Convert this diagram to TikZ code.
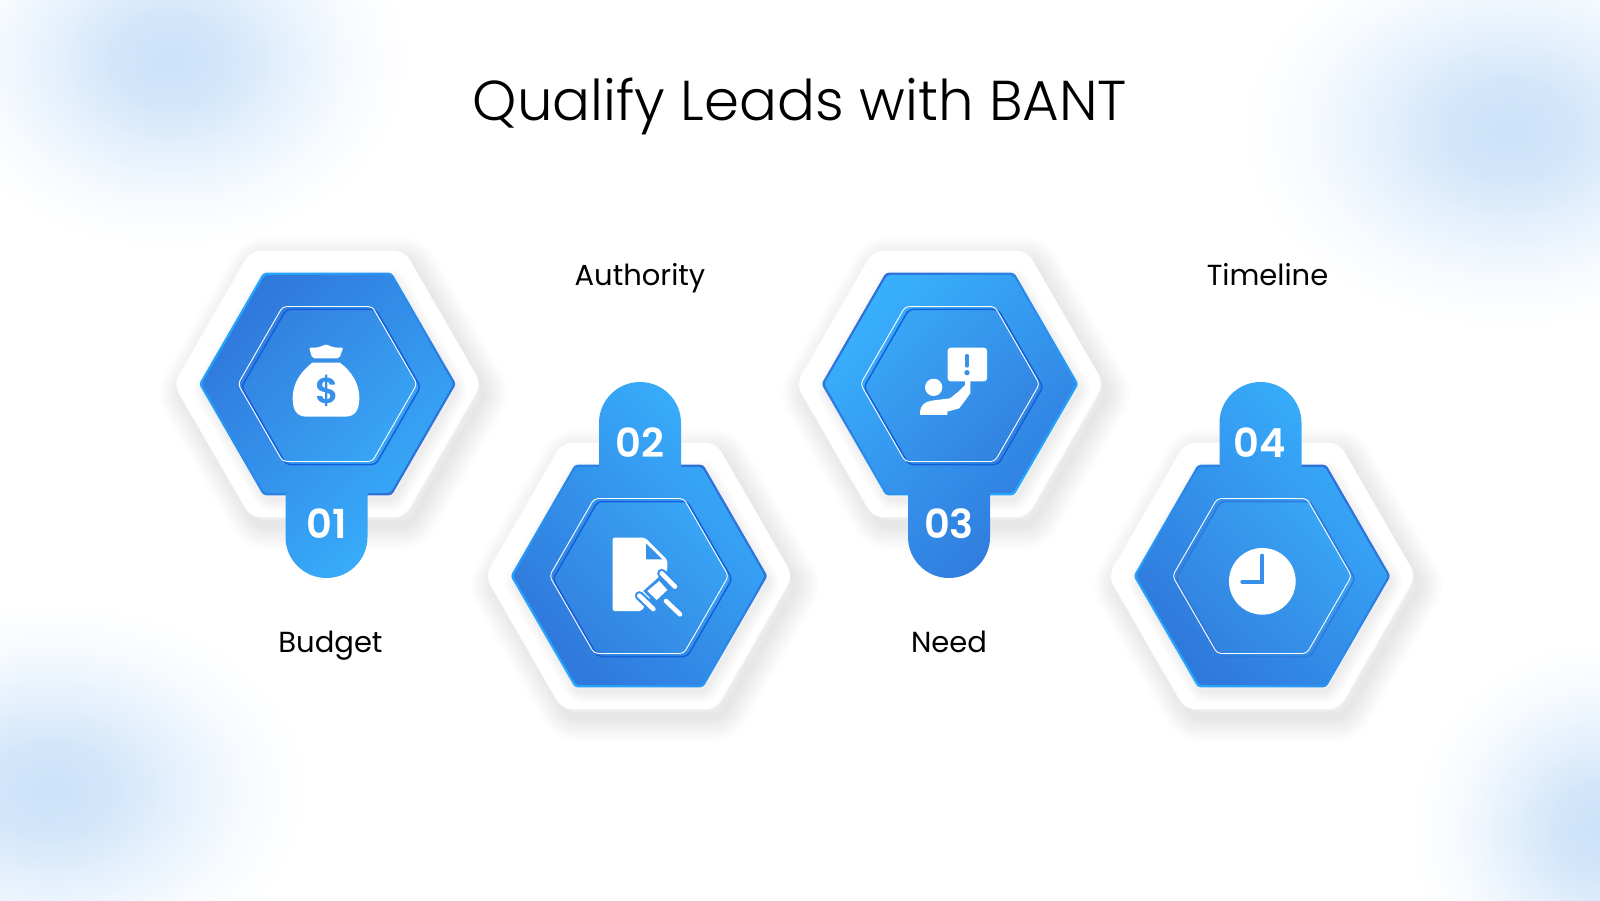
\documentclass[tikz,border=0pt]{standalone}
\usepackage{fontspec}
\newfontfamily\titlefont{Poppins Light}
\newfontfamily\labelfont{Poppins}
\newfontfamily\numfont{Poppins SemiBold}
\definecolor{deepblue}{HTML}{3079DC}
\definecolor{brightblue}{HTML}{38AFFC}
\definecolor{innerlow}{HTML}{3382E0}
\definecolor{innerhigh}{HTML}{38A5F5}
\definecolor{rimblue}{HTML}{25A6FF}
\definecolor{rimdark}{HTML}{2E70D8}
\definecolor{innerdark}{HTML}{1560DA}
\definecolor{iconblue}{HTML}{3790EA}
\definecolor{blobblue}{HTML}{CBE2F9}
\pgfdeclareradialshading{blobshade}{\pgfpoint{0bp}{0bp}}{color(0bp)=(blobblue);
  color(6bp)=(blobblue!85!white); color(12bp)=(blobblue!50!white);
  color(19bp)=(blobblue!15!white); color(25bp)=(white); color(50bp)=(white)}
\tikzset{
  titletext/.style={text=black, anchor=base, font=\titlefont\fontsize{56.2}{60}\selectfont},
  labeltext/.style={text=black, anchor=base, font=\labelfont\fontsize{29}{32}\selectfont},
  numtext/.style={text=white, font=\numfont\fontsize{40}{44}\selectfont},
  iconwhite/.style={fill=white, draw=none},
  halo/.style={draw=iconblue, line cap=round},
  blob/.style={shading=blobshade, draw=none}
}
\newcommand\hexpath[3]{(#1+#3,#2) -- (#1+#3/2,#2-#3*.866) -- (#1-#3/2,#2-#3*.866) -- (#1-#3,#2) -- (#1-#3/2,#2+#3*.866) -- (#1+#3/2,#2+#3*.866) -- cycle}
% plate: centre, tab centre x, tab side (1 below, -1 above), colours and angle of the gradient
\newcommand\plate[9]{
  \foreach \w in {6,12,...,48}
    \draw[black, opacity=.012, line width=\w pt, line join=round, rounded corners=8pt] \hexpath{#1+6}{#2+9}{152};
  \filldraw[fill=white, draw=black!3, line width=.6pt, rounded corners=10pt] \hexpath{#1}{#2}{154};
  \foreach \w in {4,8,...,24}
    \draw[black, opacity=.012, line width=\w pt, line join=round, rounded corners=4pt] \hexpath{#1+3}{#2+6}{126};
  \shade[left color=#7, right color=#8, shading angle=#9, rounded corners=3pt] \hexpath{#1}{#2}{128.5};
  \shade[left color=#5, right color=#6, shading angle=#9, rounded corners=3pt] \hexpath{#1}{#2}{125.8}
    [sharp corners] (#3-#4*41,#2) -- (#3-#4*41,{#2+#4*153}) arc[start angle=90+#4*90, delta angle=-180, radius=41]
    -- (#3+#4*41,#2) -- cycle;
}
\newcommand\core[6]{
  \shade[left color=#4, right color=#5, shading angle=#6, draw=#3, line width=1.5pt, rounded corners=4pt] \hexpath{#1+3.5}{#2+3}{89.5};
  \draw[white, line width=.9pt, rounded corners=4pt] \hexpath{#1}{#2}{89.5};
}
\begin{document}
\begin{tikzpicture}[x=1pt, y=-1pt]

  \useasboundingbox (0,0) rectangle (1600,900);
  \fill[white] (0,0) rectangle (1600,900);

  % soft patches in the corners
  \begin{scope}
    \clip (0,0) rectangle (1600,900);
    \path[blob] (170,60) ellipse [x radius=240, y radius=190];
    \path[blob] (1510,130) ellipse [x radius=270, y radius=200];
    \path[blob] (50,790) ellipse [x radius=260, y radius=190];
    \path[blob] (1600,830) ellipse [x radius=190, y radius=190];
  \end{scope}

  \node[titletext] (title) at (800,120.5) {Qualify Leads with BANT};

  % the four plates
  \plate{327.5}{384}{326.5}{1}{deepblue}{brightblue}{rimblue}{rimdark}{45}
  \core{327.5}{384}{innerdark}{innerlow}{innerhigh}{45}
  \plate{639}{576}{640}{-1}{deepblue}{brightblue}{rimblue}{rimdark}{135}
  \core{639}{576}{innerdark}{innerlow}{innerhigh}{135}
  \plate{950}{384}{949}{1}{brightblue}{deepblue}{rimdark}{rimblue}{45}
  \core{950}{384}{innerdark}{innerhigh}{innerlow}{45}
  \plate{1262}{576}{1260.5}{-1}{deepblue}{brightblue}{rimblue}{rimdark}{135}
  \core{1262}{576}{deepblue}{innerlow}{innerhigh}{135}

  \node[numtext] (num1) at (326.5,524) {01};
  \node[numtext] (num2) at (640,443) {02};
  \node[numtext] (num3) at (949,524) {03};
  \node[numtext] (num4) at (1260,443) {04};

  \node[labeltext] (budget) at (330.5,652) {Budget};
  \node[labeltext] (authority) at (640,285.5) {Authority};
  \node[labeltext] (need) at (949,652) {Need};
  \node[labeltext] (timeline) at (1267.5,285.5) {Timeline};

  % money bag
  \begin{scope}[shift={(280,330)}, x=.3333pt, y=-.3333pt]
    \fill[iconwhite, rounded corners=2pt] (87,52) .. controls (105,54) and (120,52) .. (138,42) .. controls (156,52) and (172,54) .. (190,52)
      -- (178,85) -- (97,85) -- cycle;
    \fill[iconwhite] (97,98) -- (180,98) .. controls (215,125) and (238,160) .. (238,205)
      .. controls (238,240) and (225,260) .. (195,260) -- (80,260) .. controls (50,260) and (38,240) .. (38,205)
      .. controls (38,160) and (62,125) .. (97,98) -- cycle;
    \node[text=iconblue, font=\numfont\fontsize{36}{36}\selectfont] (dollar) at (143,184) {\$};
  \end{scope}

  % document with gavel
  \begin{scope}[shift={(590,525)}, x=.3333pt, y=-.3333pt]
    \fill[iconwhite, rounded corners=2pt] (68,38) -- (165,38) -- (232,105) -- (232,135) -- (155,258) -- (68,258) -- cycle;
    \fill[iconblue] (168,55) -- (168,103) -- (217,103) -- cycle;
    \draw[halo, line width=9pt] (215,145) -- (255,185);
    \draw[halo, line width=9pt] (148,212) -- (190,252);
    \fill[iconblue] (208,155) -- (245,195) -- (200,240) -- (160,198) -- cycle;
    \draw[white, line width=4.6pt, line cap=round] (215,145) -- (255,185);
    \draw[white, line width=4.6pt, line cap=round] (148,212) -- (190,252);
    \draw[white, line width=4.6pt, line cap=round] (228,228) -- (270,268);
    \fill[iconwhite] (208,168) -- (232,195) -- (200,225) -- (172,198) -- cycle;
  \end{scope}

  % person with bubble
  \begin{scope}[shift={(860,310)}, x=.3333pt, y=-.3333pt]
    \fill[iconwhite, rounded corners=3pt] (263,113) rectangle (381,214);
    \fill[iconwhite] (221,232) circle[radius=26];
    \fill[iconwhite] (315,210) -- (331,210) -- (331,250) -- (298,295) -- (262,305) -- (262,315) -- (180,315) -- (180,305)
      .. controls (182,285) and (195,275) .. (215,272) -- (270,265) -- (295,245) -- (315,225) -- cycle;
    \draw[iconblue, line width=3.3pt, line cap=round] (321,137) -- (321,168);
    \fill[iconblue] (321,188) circle[radius=8];
  \end{scope}

  % clock
  \begin{scope}[shift={(1180,370)}, x=.3333pt, y=-.3333pt]
    \fill[iconwhite] (247,634) circle[radius=100];
    \draw[iconblue, line width=4pt, line cap=round, line join=miter] (247,557) -- (247,636) -- (187,636);
  \end{scope}

\end{tikzpicture}
\end{document}
